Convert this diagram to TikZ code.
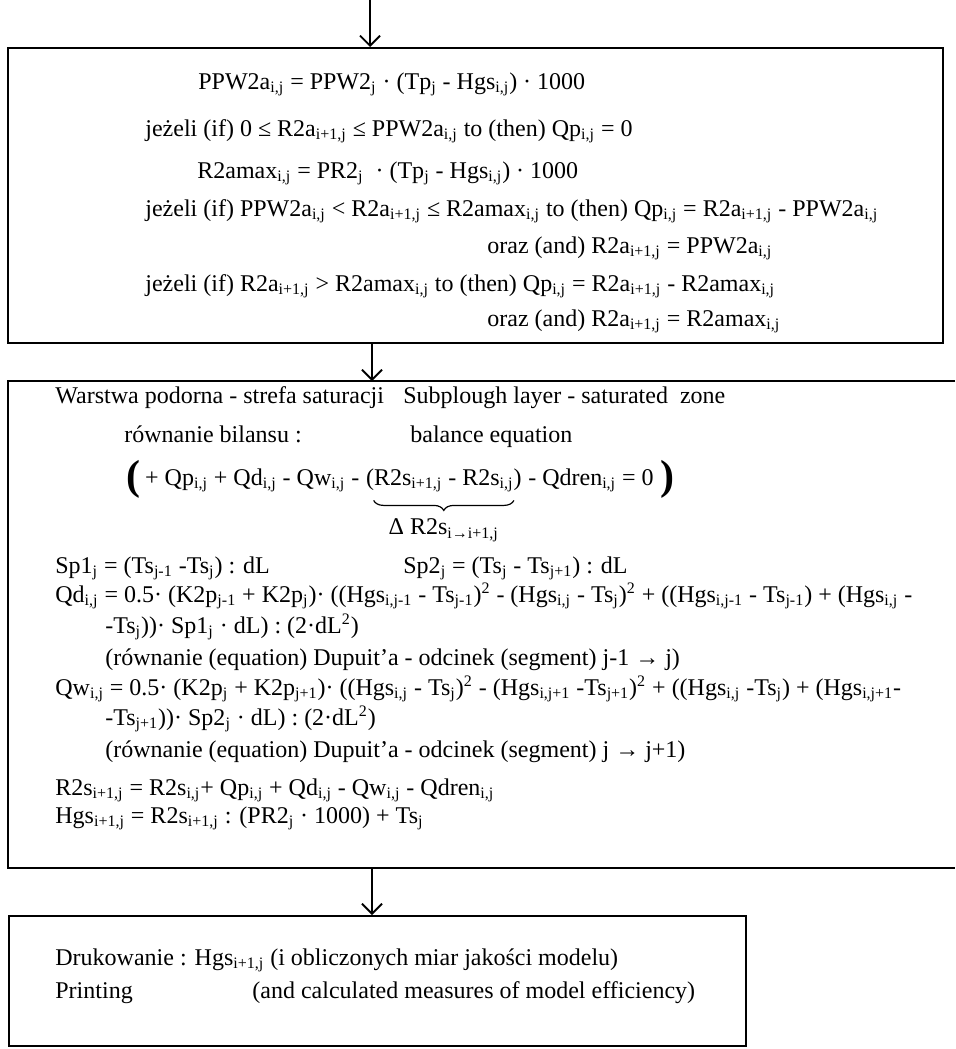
\documentclass[tikz,border=0pt]{standalone}
\usepackage{fontspec}
\setmainfont{Liberation Serif}
\usetikzlibrary{decorations.pathreplacing,arrows.meta}
\newcommand{\sbs}[1]{\textsubscript{#1}}
\newcommand{\sps}[1]{\textsuperscript{#1}}
\begin{document}
\begin{tikzpicture}[x=0.5pt,y=-0.5pt,
  txt/.style={anchor=base west, inner sep=0pt, font=\fontsize{12}{14}\selectfont},
  boxline/.style={line width=1.2pt, line join=miter},
  arr/.style={line width=0.9pt, -{Straight Barb[length=5pt,width=10pt,line width=0.9pt]}},
  brc/.style={line width=0.6pt, decorate, decoration={brace, amplitude=5pt}}]
\useasboundingbox (0,0) rectangle (955,1049);
% boxes
\node[boxline, draw, anchor=north west, minimum width=467.5pt, minimum height=147.5pt, inner sep=0pt] (b1) at (7,47) {};
\coordinate (b2tl) at (8,381);
\coordinate (b2tr) at (955,381);
\coordinate (b2bl) at (8,868);
\coordinate (b2br) at (955,868);
\draw[boxline] (b2tr) -- (b2tl) -- (b2bl) -- (b2br);
\node[boxline, draw, anchor=north west, minimum width=368.5pt, minimum height=65pt, inner sep=0pt] (b3) at (8,915) {};
% arrows
\coordinate (top) at (370,0);
\coordinate (ax) at (372,0);
\draw[arr] (top) -- (top |- b1.north);
\draw[arr] (ax |- b1.south) -- (ax |- b2tl);
\draw[arr] (ax |- b2bl) -- (ax |- b3.north);
% box 1 text
\node[txt] (l1) at (198,89) {PPW2a\sbs{i,j} = PPW2\sbs{j} · (Tp\sbs{j} - Hgs\sbs{i,j}) · 1000};
\node[txt] (l2) at (145,136) {jeżeli (if) 0 ≤ R2a\sbs{i+1,j} ≤ PPW2a\sbs{i,j} to (then) Qp\sbs{i,j} = 0};
\node[txt] (l3) at (197,178) {R2amax\sbs{i,j} = PR2\sbs{j}\ \ · (Tp\sbs{j} - Hgs\sbs{i,j}) · 1000};
\node[txt] (l4) at (145,216) {jeżeli (if) PPW2a\sbs{i,j} < R2a\sbs{i+1,j} ≤ R2amax\sbs{i,j} to (then) Qp\sbs{i,j} = R2a\sbs{i+1,j} - PPW2a\sbs{i,j}};
\node[txt] (l5) at (487,253) {oraz (and) R2a\sbs{i+1,j} = PPW2a\sbs{i,j}};
\node[txt] (l6) at (145,291) {jeżeli (if) R2a\sbs{i+1,j} > R2amax\sbs{i,j} to (then) Qp\sbs{i,j} = R2a\sbs{i+1,j} - R2amax\sbs{i,j}};
\node[txt] (l7) at (487,326) {oraz (and) R2a\sbs{i+1,j} = R2amax\sbs{i,j}};
% box 2 text
\node[txt] (m1) at (55,403) {Warstwa podorna - strefa saturacji};
\node[txt] (m1e) at (403,403) {Subplough layer - saturated\ \ zone};
\node[txt] (m2) at (124,442) {równanie bilansu :};
\node[txt] (m2e) at (410,442) {balance equation};
\node[txt, font=\bfseries\fontsize{21}{21}\selectfont] (lp) at (126,489) {(};
\node[txt] (eqa) at ([xshift=2pt]lp.base east |- 0,485) {+ Qp\sbs{i,j} + Qd\sbs{i,j} - Qw\sbs{i,j} -};
\node[txt] (eqb) at ([xshift=3pt]eqa.base east) {(R2s\sbs{i+1,j} - R2s\sbs{i,j})};
\node[txt] (eqc) at ([xshift=3pt]eqb.base east) {- Qdren\sbs{i,j} = 0};
\node[txt, font=\bfseries\fontsize{21}{21}\selectfont] (rp) at ([xshift=3pt]eqc.base east |- 0,489) {)};
\draw[brc] ([yshift=-4pt,xshift=-4pt]eqb.south east) -- ([yshift=-4pt,xshift=4pt]eqb.south west);
\node[txt, anchor=base] (dl) at ([yshift=-21pt]eqb.south) {Δ R2s\sbs{i→i+1,j}};
\node[txt] (s1) at (55,573) {Sp1\sbs{j} = (Ts\sbs{j-1} -Ts\sbs{j}) : dL};
\node[txt] (s2) at (403,573) {Sp2\sbs{j} = (Ts\sbs{j} - Ts\sbs{j+1}) : dL};
\node[txt] (qd1) at (55,602) {Qd\sbs{i,j} = 0.5· (K2p\sbs{j-1} + K2p\sbs{j})· ((Hgs\sbs{i,j-1} - Ts\sbs{j-1})\sps{2} - (Hgs\sbs{i,j} - Ts\sbs{j})\sps{2} + ((Hgs\sbs{i,j-1} - Ts\sbs{j-1}) + (Hgs\sbs{i,j} -};
\node[txt] (qd2) at (105,633) {-Ts\sbs{j}))· Sp1\sbs{j} · dL) : (2·dL\sps{2})};
\node[txt] (qd3) at (105,665) {(równanie (equation) Dupuit’a - odcinek (segment) j-1 → j)};
\node[txt] (qw1) at (55,695) {Qw\sbs{i,j} = 0.5· (K2p\sbs{j} + K2p\sbs{j+1})· ((Hgs\sbs{i,j} - Ts\sbs{j})\sps{2} - (Hgs\sbs{i,j+1} -Ts\sbs{j+1})\sps{2} + ((Hgs\sbs{i,j} -Ts\sbs{j}) + (Hgs\sbs{i,j+1}-};
\node[txt] (qw2) at (105,725) {-Ts\sbs{j+1}))· Sp2\sbs{j} · dL) : (2·dL\sps{2})};
\node[txt] (qw3) at (105,757) {(równanie (equation) Dupuit’a - odcinek (segment) j → j+1)};
\node[txt] (r1) at (55,795) {R2s\sbs{i+1,j} = R2s\sbs{i,j}+ Qp\sbs{i,j} + Qd\sbs{i,j} - Qw\sbs{i,j} - Qdren\sbs{i,j}};
\node[txt] (r2) at (55,823) {Hgs\sbs{i+1,j} = R2s\sbs{i+1,j} : (PR2\sbs{j} · 1000) + Ts\sbs{j}};
% box 3 text
\node[txt] (p1) at (55,965) {Drukowanie : Hgs\sbs{i+1,j} (i obliczonych miar jakości modelu)};
\node[txt] (p2) at (55,998) {Printing};
\node[txt] (p2e) at (252,998) {(and calculated measures of model efficiency)};
\end{tikzpicture}
\end{document}
